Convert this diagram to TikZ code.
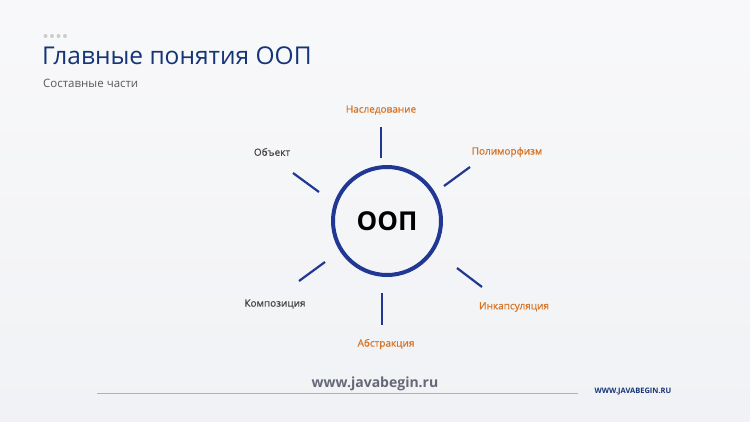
\documentclass[tikz,border=0pt]{standalone}
\usepackage{fontspec}
\setmainfont{Open Sans}
\newfontfamily\titlefont{Open Sans}
\newfontfamily\lblfont[FakeBold=0.7]{Open Sans}
\begin{document}
\begin{tikzpicture}[x=1pt,y=-1pt,
  spoke/.style={draw=oopblue,line width=2.2pt},
  orangelbl/.style={text=ooporange,font=\lblfont\fontsize{10}{12}\selectfont,inner sep=0pt},
  graylbl/.style={text=oopgray,font=\lblfont\fontsize{10}{12}\selectfont,inner sep=0pt},
  dot/.style={circle,fill=gray!40,inner sep=0pt,minimum size=4pt}]
\definecolor{oopblue}{RGB}{32,56,148}
\definecolor{ooporange}{RGB}{214,116,38}
\definecolor{oopgray}{RGB}{70,70,70}
\definecolor{titleblue}{RGB}{22,52,120}
\definecolor{bg}{RGB}{241,242,245}
\definecolor{urlgray}{RGB}{100,104,120}
\useasboundingbox (0,0) rectangle (750,421);
\shade[top color=white!50!bg,bottom color=bg] (0,0) rectangle (750,421);
% dots
\foreach \i in {0,1,2,3} \node[dot] (d\i) at (45.5+6.5*\i,36) {};
% titles
\node[anchor=west,inner sep=0pt,text=titleblue,font=\titlefont\fontsize{24.5}{30}\selectfont] (title) at (42,56) {Главные понятия ООП};
\node[anchor=west,inner sep=0pt,text=oopgray!90,font=\fontsize{11.5}{14}\selectfont] (sub) at (43,83) {Составные части};
% circle
\node[circle,draw=oopblue,line width=4pt,minimum size=108pt,inner sep=0pt,font=\bfseries\fontsize{26}{30}\selectfont] (oop) at (387,221) {ООП};
% spokes
\coordinate (t1) at (381,127); \coordinate (t2) at (381,158);
\coordinate (tr1) at (470,167); \coordinate (tr2) at (444,186);
\coordinate (tl1) at (293,173); \coordinate (tl2) at (319,192);
\coordinate (bl1) at (325,262); \coordinate (bl2) at (299,281);
\coordinate (b1) at (382,293); \coordinate (b2) at (382,325);
\coordinate (br1) at (457,268); \coordinate (br2) at (482,287);
\draw[spoke] (t1) -- (t2);
\draw[spoke] (tr1) -- (tr2);
\draw[spoke] (tl1) -- (tl2);
\draw[spoke] (bl1) -- (bl2);
\draw[spoke] (b1) -- (b2);
\draw[spoke] (br1) -- (br2);
% labels
\node[orangelbl] (nasl) at (381,110) {Наследование};
\node[orangelbl] (poli) at (507,152) {Полиморфизм};
\node[graylbl] (obj) at (272,152) {Объект};
\node[graylbl] (komp) at (275,304) {Композиция};
\node[orangelbl] (abs) at (386,344) {Абстракция};
\node[orangelbl] (inc) at (514,307) {Инкапсуляция};
% footer
\coordinate (f1) at (97,393); \coordinate (f2) at (578,393);
\draw[gray!60,line width=0.8pt] (f1) -- (f2);
\node[inner sep=0pt,text=urlgray,font=\bfseries\fontsize{14}{16}\selectfont] (url) at (375,384) {www.javabegin.ru};
\node[inner sep=0pt,text=titleblue,font=\bfseries\fontsize{7.5}{9}\selectfont] (url2) at (633,392) {WWW.JAVABEGIN.RU};
\end{tikzpicture}
\end{document}
